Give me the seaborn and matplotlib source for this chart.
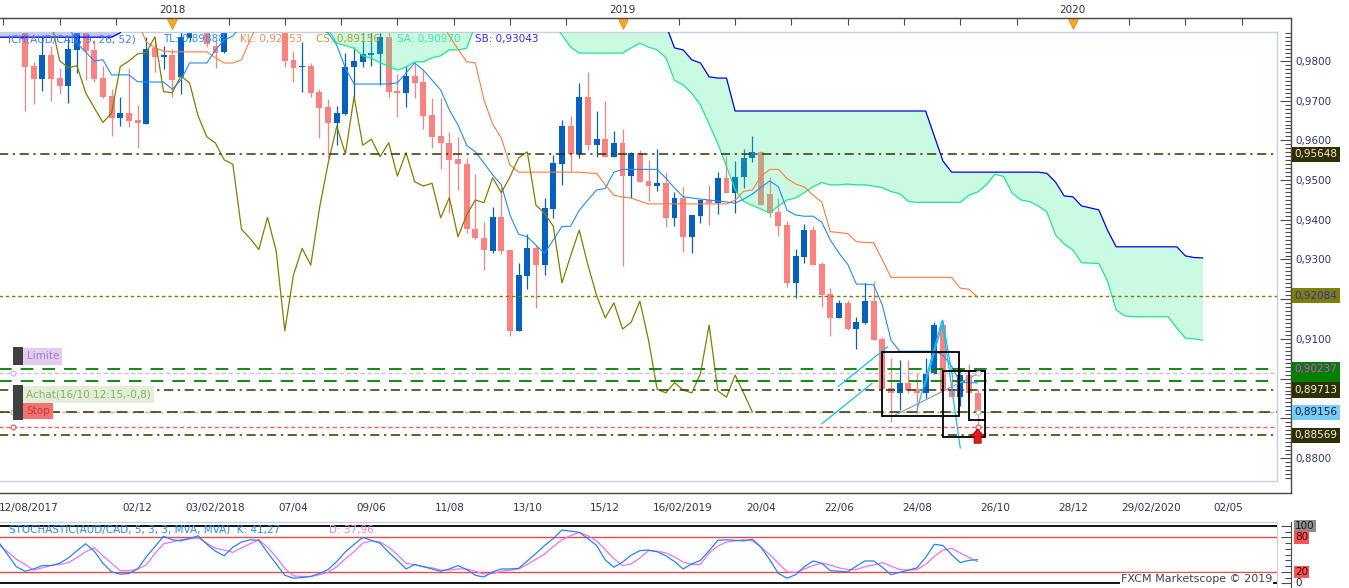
import numpy as np
import pandas as pd
import seaborn as sns
import matplotlib.pyplot as plt
import matplotlib.transforms as mtransforms
from matplotlib.patches import Rectangle
from matplotlib.ticker import FixedLocator, FuncFormatter

# AUD/CAD weekly candles, bar 0 = week of 02/09/2017, bar 110 = week of 12/10/2019
opens = [0.9903, 0.9787, 0.9755, 0.9815, 0.9756, 0.9737, 0.9828, 0.9883, 0.9828, 0.9757,
         0.9712, 0.9657, 0.9669, 0.9651, 0.9641, 0.9833, 0.9810, 0.9815, 0.9760, 0.9857,
         0.9900, 0.9920, 0.9838, 0.9823, 0.9890, 0.9935, 0.9910, 0.9950, 0.9920, 0.9945,
         0.9903, 0.9803, 0.9784, 0.9787, 0.9723, 0.9684, 0.9645, 0.9666, 0.9784, 0.9798,
         0.9815, 0.9818, 0.9861, 0.9724, 0.9720, 0.9762, 0.9748, 0.9664, 0.9611, 0.9593,
         0.9553, 0.9540, 0.9376, 0.9354, 0.9322, 0.9407, 0.9324, 0.9120, 0.9258, 0.9328,
         0.9286, 0.9427, 0.9540, 0.9636, 0.9566, 0.9710, 0.9588, 0.9603, 0.9559, 0.9594,
         0.9510, 0.9569, 0.9498, 0.9485, 0.9492, 0.9405, 0.9456, 0.9357, 0.9409, 0.9450,
         0.9443, 0.9506, 0.9468, 0.9507, 0.9555, 0.9571, 0.9465, 0.9419, 0.9387, 0.9241,
         0.9307, 0.9374, 0.9288, 0.9213, 0.9153, 0.9191, 0.9125, 0.9141, 0.9195, 0.9099,
         0.8977, 0.8964, 0.8988, 0.8973, 0.8964, 0.9011, 0.9135, 0.8971, 0.8953, 0.9009,
         0.8963]
highs = [0.9923, 0.9798, 0.9860, 0.9838, 0.9782, 0.9860, 0.9905, 0.9900, 0.9853, 0.9787,
         0.9729, 0.9710, 0.9783, 0.9689, 0.9860, 0.9853, 0.9838, 0.9830, 0.9880, 0.9915,
         0.9940, 0.9935, 0.9852, 0.9905, 0.9950, 0.9960, 0.9970, 0.9975, 0.9965, 0.9960,
         0.9920, 0.9825, 0.9849, 0.9796, 0.9729, 0.9704, 0.9687, 0.9820, 0.9836, 0.9880,
         0.9880, 0.9885, 0.9880, 0.9767, 0.9787, 0.9795, 0.9780, 0.9707, 0.9707, 0.9622,
         0.9608, 0.9556, 0.9515, 0.9395, 0.9433, 0.9483, 0.9324, 0.9291, 0.9364, 0.9336,
         0.9454, 0.9563, 0.9651, 0.9661, 0.9745, 0.9772, 0.9675, 0.9700, 0.9624, 0.9629,
         0.9571, 0.9576, 0.9551, 0.9578, 0.9521, 0.9469, 0.9483, 0.9412, 0.9451, 0.9488,
         0.9521, 0.9561, 0.9548, 0.9578, 0.9611, 0.9573, 0.9508, 0.9454, 0.9397, 0.9326,
         0.9389, 0.9384, 0.9294, 0.9227, 0.9198, 0.9198, 0.9154, 0.9240, 0.9246, 0.9105,
         0.9052, 0.9047, 0.9047, 0.9015, 0.9051, 0.9142, 0.9147, 0.9009, 0.9026, 0.9036,
         0.8975]
lows = [0.9675, 0.9692, 0.9724, 0.9699, 0.9717, 0.9695, 0.9771, 0.9752, 0.9747, 0.9707,
        0.9611, 0.9636, 0.9634, 0.9581, 0.9641, 0.9773, 0.9780, 0.9710, 0.9717, 0.9850,
        0.9885, 0.9835, 0.9783, 0.9820, 0.9880, 0.9890, 0.9895, 0.9900, 0.9895, 0.9885,
        0.9786, 0.9748, 0.9723, 0.9710, 0.9607, 0.9556, 0.9588, 0.9664, 0.9706, 0.9786,
        0.9787, 0.9740, 0.9710, 0.9660, 0.9684, 0.9706, 0.9629, 0.9581, 0.9527, 0.9418,
        0.9475, 0.9366, 0.9351, 0.9273, 0.9317, 0.9315, 0.9107, 0.9120, 0.9225, 0.9177,
        0.9261, 0.9405, 0.9488, 0.9523, 0.9556, 0.9576, 0.9559, 0.9559, 0.9557, 0.9283,
        0.9456, 0.9496, 0.9448, 0.9473, 0.9381, 0.9385, 0.9319, 0.9317, 0.9391, 0.9388,
        0.9414, 0.9467, 0.9416, 0.9479, 0.9546, 0.9437, 0.9408, 0.9359, 0.9231, 0.9204,
        0.9292, 0.9286, 0.9181, 0.9107, 0.9153, 0.9122, 0.9074, 0.9137, 0.9097, 0.8973,
        0.8891, 0.8921, 0.8964, 0.8910, 0.8950, 0.9011, 0.8969, 0.8953, 0.8930, 0.8960,
        0.8879]
closes = [0.9786, 0.9755, 0.9815, 0.9755, 0.9737, 0.9830, 0.9891, 0.9826, 0.9755, 0.9710,
          0.9657, 0.9669, 0.9650, 0.9644, 0.9830, 0.9810, 0.9815, 0.9752, 0.9861, 0.9900,
          0.9925, 0.9843, 0.9821, 0.9890, 0.9935, 0.9910, 0.9950, 0.9920, 0.9945, 0.9900,
          0.9801, 0.9783, 0.9788, 0.9720, 0.9682, 0.9645, 0.9669, 0.9786, 0.9800, 0.9818,
          0.9821, 0.9861, 0.9723, 0.9720, 0.9762, 0.9745, 0.9661, 0.9609, 0.9593, 0.9551,
          0.9540, 0.9376, 0.9353, 0.9325, 0.9406, 0.9322, 0.9120, 0.9261, 0.9328, 0.9286,
          0.9429, 0.9542, 0.9636, 0.9566, 0.9710, 0.9588, 0.9603, 0.9559, 0.9594, 0.9510,
          0.9569, 0.9496, 0.9485, 0.9492, 0.9405, 0.9456, 0.9357, 0.9412, 0.9450, 0.9443,
          0.9506, 0.9468, 0.9508, 0.9556, 0.9571, 0.9437, 0.9416, 0.9384, 0.9241, 0.9309,
          0.9374, 0.9286, 0.9210, 0.9153, 0.9191, 0.9125, 0.9142, 0.9195, 0.9097, 0.8973,
          0.8964, 0.8990, 0.8971, 0.8964, 0.9013, 0.9135, 0.8969, 0.8953, 0.9009, 0.8963,
          0.89156]

# Ichimoku (9, 26, 52)
tenkan = [0.9890, 0.9890, 0.9890, 0.9890, 0.9890, 0.9890, 0.9845, 0.9823, 0.9800, 0.9803,
          0.9765, 0.9765, 0.9765, 0.9748, 0.9747, 0.9747, 0.9747, 0.9729, 0.9752, 0.9795,
          0.9795, 0.9795, 0.9828, 0.9853, 0.9863, 0.9890, 0.9890, 0.9890, 0.9890, 0.9890,
          0.9890, 0.9890, 0.9885, 0.9885, 0.9880, 0.9871, 0.9840, 0.9782, 0.9742, 0.9742,
          0.9742, 0.9742, 0.9742, 0.9745, 0.9770, 0.9795, 0.9777, 0.9752, 0.9727, 0.9677,
          0.9639, 0.9588, 0.9571, 0.9543, 0.9513, 0.9488, 0.9412, 0.9364, 0.9357, 0.9336,
          0.9316, 0.9349, 0.9383, 0.9384, 0.9424, 0.9450, 0.9475, 0.9479, 0.9520, 0.9527,
          0.9527, 0.9527, 0.9527, 0.9527, 0.9505, 0.9480, 0.9458, 0.9455, 0.9452, 0.9450,
          0.9447, 0.9445, 0.9442, 0.9452, 0.9465, 0.9482, 0.9498, 0.9483, 0.9424, 0.9412,
          0.9409, 0.9409, 0.9394, 0.9349, 0.9316, 0.9288, 0.9238, 0.9238, 0.9236, 0.9185,
          0.9097, 0.9069, 0.9069, 0.9069, 0.9069, 0.9069, 0.9059, 0.9031, 0.8990, 0.8990,
          0.8989]
kijun = [0.9900, 0.9900, 0.9900, 0.9900, 0.9900, 0.9900, 0.9900, 0.9900, 0.9900, 0.9900,
         0.9900, 0.9900, 0.9900, 0.9900, 0.9848, 0.9833, 0.9825, 0.9823, 0.9823, 0.9823,
         0.9823, 0.9823, 0.9808, 0.9795, 0.9795, 0.9803, 0.9853, 0.9900, 0.9900, 0.9900,
         0.9900, 0.9900, 0.9900, 0.9900, 0.9900, 0.9900, 0.9900, 0.9900, 0.9900, 0.9900,
         0.9900, 0.9900, 0.9900, 0.9900, 0.9900, 0.9900, 0.9900, 0.9900, 0.9900, 0.9863,
         0.9830, 0.9798, 0.9795, 0.9702, 0.9641, 0.9606, 0.9538, 0.9520, 0.9520, 0.9520,
         0.9520, 0.9520, 0.9520, 0.9520, 0.9520, 0.9518, 0.9517, 0.9488, 0.9462, 0.9457,
         0.9455, 0.9447, 0.9440, 0.9440, 0.9440, 0.9440, 0.9440, 0.9440, 0.9440, 0.9440,
         0.9440, 0.9440, 0.9450, 0.9472, 0.9475, 0.9510, 0.9527, 0.9527, 0.9504, 0.9490,
         0.9483, 0.9462, 0.9445, 0.9370, 0.9368, 0.9365, 0.9345, 0.9343, 0.9342, 0.9299,
         0.9255, 0.9255, 0.9255, 0.9255, 0.9255, 0.9255, 0.9255, 0.9255, 0.9228, 0.9225,
         0.9205]
# senkou spans start 3 bars before bar 0 and run 26 bars past the last candle
# (values of 0.99 and above are off the top of the chart)
senkou_a = [0.9900] * 38 + [
    0.9880, 0.9845, 0.9839, 0.9832, 0.9813, 0.9807, 0.9796, 0.9786, 0.9777, 0.9785,
    0.9798, 0.9798, 0.9808, 0.9813, 0.9828, 0.9828, 0.9832, 0.9891] + [0.9900] * 9 + [
    0.9866, 0.9835, 0.9820, 0.9820, 0.9820, 0.9820, 0.9820, 0.9820, 0.9833, 0.9845,
    0.9835, 0.9828, 0.9808, 0.9751, 0.9740, 0.9718, 0.9689, 0.9641, 0.9592, 0.9535,
    0.9475, 0.9446, 0.9436, 0.9427, 0.9417, 0.9435, 0.9450, 0.9455, 0.9469, 0.9483,
    0.9494, 0.9488, 0.9488, 0.9490, 0.9488, 0.9488, 0.9485, 0.9481, 0.9471, 0.9466,
    0.9446, 0.9444, 0.9444, 0.9444, 0.9444, 0.9444, 0.9444, 0.9462, 0.9470, 0.9488,
    0.9515, 0.9509, 0.9467, 0.9450, 0.9446, 0.9435, 0.9420, 0.9362, 0.9339, 0.9324,
    0.9292, 0.9291, 0.9290, 0.9246, 0.9173, 0.9158, 0.9156, 0.9156, 0.9156, 0.9156,
    0.9156, 0.9127, 0.9102, 0.9100, 0.9097]
senkou_b = [0.9860] * 14 + [0.9871] + [0.9950] * 62 + [
    0.9891, 0.9833, 0.9828, 0.9803, 0.9795, 0.9760, 0.9757, 0.9757] + [0.9674] * 23 + [
    0.9611, 0.9548] + [0.9520] * 11 + [
    0.9517, 0.9495, 0.9460, 0.9458, 0.9435, 0.9430, 0.9425, 0.9374] + [0.9332] * 8 + [
    0.9309, 0.9305, 0.9304]

# stochastic (5, 3, 3), also from 3 bars before bar 0
stoch_k = [71, 50, 29,
           21, 25, 31, 31, 35, 44, 57, 69, 56, 35,
           20, 16, 17, 25, 46, 64, 82, 76, 74, 78,
           83, 68, 56, 48, 63, 72, 76, 75, 54, 34,
           14, 9, 10, 12, 17, 24, 38, 55, 68, 80,
           75, 70, 54, 40, 25, 33, 29, 25, 21, 25,
           31, 24, 14, 11, 20, 25, 25, 26, 39, 52,
           66, 78, 93, 91, 89, 78, 66, 41, 28, 37,
           49, 57, 58, 55, 48, 38, 25, 34, 40, 57,
           75, 76, 75, 74, 77, 63, 41, 17, 9, 15,
           29, 39, 35, 22, 21, 20, 30, 39, 39, 28,
           15, 19, 23, 27, 45, 68, 66, 50, 36, 40, 41.27]
stoch_d = [67, 55, 42,
           33, 23, 27, 31, 33, 36, 45, 55, 62, 48,
           35, 22, 22, 25, 32, 52, 69, 72, 76, 78,
           79, 70, 61, 58, 54, 62, 69, 76, 63, 46,
           26, 13, 12, 12, 15, 19, 29, 43, 55, 70,
           74, 72, 63, 50, 35, 32, 29, 27, 23, 23,
           25, 25, 21, 16, 17, 21, 23, 25, 33, 42,
           51, 64, 76, 83, 89, 83, 74, 59, 43, 31,
           34, 44, 57, 56, 53, 46, 37, 33, 33, 53,
           65, 72, 74, 76, 74, 63, 50, 35, 20, 19,
           25, 31, 35, 32, 27, 24, 24, 29, 32, 36,
           30, 24, 23, 24, 33, 47, 58, 61, 53, 45, 37.96]

# horizontal levels
level_dashdot = [0.95648, 0.89713, 0.88569]
level_dotted = 0.92084
level_green = [0.90237, 0.89930]
limit_level, entry_level, stop_level = 0.90131, 0.89156, 0.88773

# price boxes on the right axis (drawn in this order)
box_levels = [0.95648, 0.92084, 0.90237, 0.89713, 0.89156, 0.88569]
box_texts = ['0,95648', '0,92084', '0,90237', '0,89713', '0,89156', '0,88569']
box_faces = ['#2f2f00', '#808000', '#008000', '#2f2f00', '#78cdf5', '#2f2f00']
box_inks = ['#f4ecd0', '#2a2ad0', '#ff30ff', '#f4f4f4', '#1a1a40', '#f4f4f4']
hidden_box_level = 0.89930
# right-axis prices whose labels sit under the boxes
covered_ticks = [0.92, 0.90, 0.89]

# drawings (bar index, price)
trend_a = ([93.9, 99.6], [0.8980, 0.9080])
trend_b = ([92.0, 97.8], [0.8886, 0.8988])
zigzag_1 = ([103.0, 105.9, 108.0], [0.8921, 0.9147, 0.8825])
zigzag_2 = ([103.9, 106.0, 107.1], [0.8980, 0.9143, 0.9005])
grey_line = ([100.1, 110.1], [0.8904, 0.9013])
boxes = [(99.0, 107.9, 0.90678, 0.89058), (106.0, 110.85, 0.90199, 0.88537),
         (109.0, 110.85, 0.90199, 0.88957)]

date_ticks = [-3, 13, 22, 31, 40, 49, 58, 67, 76, 85, 94, 103, 112, 121, 130, 139]
date_labels = ['12/08/2017', '02/12', '03/02/2018', '07/04', '09/06', '11/08', '13/10', '15/12',
               '16/02/2019', '20/04', '22/06', '24/08', '26/10', '28/12', '29/02/2020', '02/05']
year_ticks = [17, 69, 121]
year_labels = ['2018', '2019', '2020']

assert len(opens) == len(highs) == len(lows) == len(closes) == len(tenkan) == len(kijun) == 111
assert len(senkou_a) == len(senkou_b) == 140
assert len(stoch_k) == len(stoch_d) == 114

# ---- layout (pixels of the 1349x588 picture) ----
W, H = 1349, 588
LEFT = -2.0
BAR0_PX, BAR_PX = 25.0, 8.66
P_REF, P_REF_PX, PX_PER_P = 0.98, 61.0, 3970.0

def k_at(px):
    return (px - BAR0_PX) / BAR_PX

def p_at(py):
    return P_REF + (P_REF_PX - py) / PX_PER_P

def st_at(py):
    return (583.3 - py) / 0.573

def rect(l, t, r, b):
    return [l / W, 1 - b / H, (r - l) / W, (b - t) / H]

def fx(px, right=1277):
    return (px - LEFT) / (right - LEFT)

def blend(a):
    return mtransforms.blended_transform_factory(a.transAxes, a.transData)

def price_label(v, _):
    if any(abs(v - c) < 1e-6 for c in covered_ticks):
        return ''
    return f'{v:.4f}'.replace('.', ',')

sns.set_style('white')
plt.rcParams['font.family'] = ['DejaVu Sans']
plt.rcParams['font.size'] = 7.5

BULL, BEAR = '#0560c0', '#fc8282'
FRAME = '#4a4a4a'
LIGHT = '#c6d0dc'

fig = plt.figure(figsize=(W / 100, H / 100), dpi=100)
axf = fig.add_axes(rect(LEFT, 18, 1291, 493))
ax = fig.add_axes(rect(LEFT, 32, 1277, 481))
axsf = fig.add_axes(rect(LEFT, 522.3, 1291, 588))
axs = fig.add_axes(rect(LEFT, 522.3, 1277, 588))

axf.set_xlim(k_at(LEFT), k_at(1291))
axf.set_ylim(p_at(493), p_at(18))
ax.set_xlim(k_at(LEFT), k_at(1277))
ax.set_ylim(p_at(481), p_at(32))
axs.set_xlim(k_at(LEFT), k_at(1277))
axs.set_ylim(st_at(588), st_at(522.3))
axsf.set_xlim(k_at(LEFT), k_at(1291))
axsf.set_ylim(st_at(588), st_at(522.3))

# ---- candles ----
df = pd.DataFrame({'open': opens, 'high': highs, 'low': lows, 'close': closes})
df['k'] = np.arange(len(df))
df['col'] = np.where(df['close'] >= df['open'], BULL, BEAR)
ax.vlines(df['k'], df['low'], df['high'], colors=df['col'], lw=0.9, zorder=2)
body = (df['close'] - df['open']).abs().clip(lower=0.0002)
ax.bar(df['k'], body, bottom=df[['open', 'close']].min(axis=1), width=0.68,
       color=df['col'], lw=0, zorder=2)

# ---- cloud ----
kc = np.arange(-3, -3 + len(senkou_a))
sa = np.array(senkou_a)
sb = np.array(senkou_b)
ax.fill_between(kc, sa, sb, where=sb >= sa, interpolate=True, color='#33ef93',
                alpha=0.25, lw=0, zorder=2.5)
ax.fill_between(kc, sa, sb, where=sa > sb, interpolate=True, color='#7575e6',
                alpha=0.4, lw=0, zorder=2.5)

kb = df['k'].to_numpy()
sns.lineplot(x=kc, y=sa, ax=ax, color='#1ee88a', lw=0.9, zorder=3, legend=False)
sns.lineplot(x=kc, y=sb, ax=ax, color='#0000e6', lw=0.9, zorder=3, legend=False)
sns.lineplot(x=kb, y=kijun, ax=ax, color='#ff7a3c', lw=0.8, zorder=3, legend=False)
sns.lineplot(x=kb, y=tenkan, ax=ax, color='#1e8cff', lw=0.8, zorder=3, legend=False)
# chikou span = closes plotted 26 bars back
sns.lineplot(x=kb[:len(closes) - 26], y=closes[26:], ax=ax, color='#808000', lw=0.9,
             zorder=3, legend=False)

# ---- horizontal levels ----
for lv in level_dashdot:
    ax.axhline(lv, color='#333300', lw=1.1, ls=(0, (6, 3, 1.5, 3)), zorder=3.5)
ax.axhline(level_dotted, color='#808000', lw=1.0, ls=(0, (2.5, 2)), zorder=3.5)
for lv in level_green:
    ax.axhline(lv, color='#008000', lw=1.3, ls=(0, (7, 5)), zorder=3.5)
ax.axhline(limit_level, color='#d8b4e8', lw=1.0, ls=(0, (3, 2)), zorder=3.5)
ax.axhline(entry_level, color='#a8c898', lw=1.0, ls=(0, (3, 2)), zorder=3.5)
ax.axhline(entry_level, color='#333300', lw=1.1, ls=(0, (7, 4)), zorder=3.5)
ax.axhline(stop_level, color='#f06060', lw=1.0, ls=(0, (3, 2)), zorder=3.5)

# ---- drawings ----
for xs, ys in (trend_a, trend_b, zigzag_1, zigzag_2):
    ax.plot(xs, ys, color='#10c0f0', lw=0.9, zorder=4)
ax.plot(*grey_line, color='#9898c0', lw=0.9, zorder=4)
for k0, k1, ptop, pbot in boxes:
    ax.add_patch(Rectangle((k0, pbot), k1 - k0, ptop - pbot, fill=False,
                           ec='black', lw=1.3, zorder=4))
ax.annotate('', xy=(kb[-1], stop_level - 0.0004), xytext=(kb[-1], stop_level - 0.0040),
            arrowprops=dict(arrowstyle='simple,head_length=0.45,head_width=0.8,tail_width=0.42',
                            mutation_scale=12, fc='#e41b1b', ec='#8a0000', lw=0.6,
                            shrinkA=0, shrinkB=0), zorder=6)
for lv, c in ((limit_level, '#d8b4e8'), (entry_level, '#a8c898'), (stop_level, '#f06060')):
    ax.plot([kb[-1]], [lv], 'o', ms=3.5, mfc='white', mec=c, mew=0.9, zorder=5)
    ax.plot([fx(13)], [lv], 'o', ms=3.5, mfc='white', mec=c, mew=0.9, zorder=5,
            transform=blend(ax), clip_on=False)

# ---- order labels on the left ----
tb = blend(ax)
ax.add_patch(Rectangle((fx(13), p_at(365)), fx(23) - fx(13), p_at(347) - p_at(365),
                       transform=tb, fc='#404040', ec='none', zorder=6))
ax.add_patch(Rectangle((fx(13), p_at(420)), fx(23) - fx(13), p_at(385) - p_at(420),
                       transform=tb, fc='#404040', ec='none', zorder=6))
order_labels = [('Limite', limit_level, 12.2, '#e2cdf2', '#a47cc8'),
                ('Achat(16/10 12:15,-0,8)', entry_level, 12.7, '#e2efd6', '#8fac73'),
                ('Stop', stop_level, 11.5, '#f27272', '#c43a3a')]
for txt, lv, off, fc, ink in order_labels:
    ax.annotate(txt, xy=(fx(26.5), lv), xycoords=tb, xytext=(0, off),
                textcoords='offset points', ha='left', va='center', color=ink,
                fontsize=7.5, zorder=7, annotation_clip=False,
                bbox=dict(boxstyle='square,pad=0.3', fc=fc, ec='none'))

# ---- ichimoku legend ----
ich_texts = ['ICH(AUD/CAD, 9, 26, 52)', 'TL: 0,89888', 'KL: 0,92053', 'CS: 0,89156',
             'SA: 0,90970', 'SB: 0,93043']
ich_px = [8, 163, 240, 316, 397, 475]
ich_colors = ['#3d7ef5', '#2b8cff', '#ff8a50', '#b8a020', '#40e89a', '#3a2af0']
for t, px, c in zip(ich_texts, ich_px, ich_colors):
    ax.text(fx(px), (481 - 39) / (481 - 32), t, transform=ax.transAxes, color=c,
            fontsize=7.5, ha='left', va='center', zorder=7)

# ---- main panel frames ----
ax.set_xticks([])
ax.set_yticks([])
ax.set_xlabel('')
ax.set_ylabel('')
ax.spines['left'].set_visible(False)
for s in ('top', 'right', 'bottom'):
    ax.spines[s].set_color(LIGHT)
    ax.spines[s].set_linewidth(1.0)

axf.patch.set_visible(False)
axf.spines['left'].set_visible(False)
for s in ('top', 'right', 'bottom'):
    axf.spines[s].set_color(FRAME)
    axf.spines[s].set_linewidth(1.0)
axf.yaxis.tick_right()
axf.yaxis.set_major_locator(FixedLocator(np.arange(0.88, 0.985, 0.01)))
axf.yaxis.set_minor_locator(FixedLocator(np.arange(0.875, 0.9875, 0.001)))
axf.yaxis.set_major_formatter(FuncFormatter(price_label))
axf.tick_params(axis='y', which='major', direction='in', length=8, width=0.8, color=FRAME,
                pad=3, labelsize=7.5, labelcolor='#34346e')
axf.tick_params(axis='y', which='minor', direction='in', length=4, width=0.8, color=FRAME)
axf.set_xticks(date_ticks, labels=date_labels)
axf.xaxis.set_minor_locator(FixedLocator(np.arange(-2.625, 146, 1.125)))
axf.tick_params(axis='x', which='major', direction='in', length=8, width=0.8, color=FRAME,
                pad=7, labelsize=7.5, labelcolor='#303058')
axf.tick_params(axis='x', which='minor', direction='in', length=4, width=0.8, color=FRAME)
axf.get_xticklabels()[0].set_ha('left')

top = axf.secondary_xaxis('top')
top.set_xticks(year_ticks, labels=year_labels)
top.xaxis.set_minor_locator(FixedLocator(np.arange(-2.5, 146, 6.5)))
top.tick_params(axis='x', which='both', direction='in', length=5, width=0.8, color=FRAME,
                pad=2.5, labelsize=7.5, labelcolor='#303050')
top.spines['top'].set_color(FRAME)
axf.plot(year_ticks, [1 - 5.5 / 475] * len(year_ticks), 'v', ms=7.5, color='#f5a623',
         mec='#e08a10', mew=0.5, transform=mtransforms.blended_transform_factory(
             axf.transData, axf.transAxes), clip_on=False, zorder=5)

# price box mostly hidden under its neighbours
axf.add_patch(Rectangle((fx(1292, 1291), hidden_box_level - 8.5 / PX_PER_P),
                        fx(1340, 1291) - fx(1292, 1291), 17 / PX_PER_P,
                        transform=blend(axf), fc='#008000', ec='none', clip_on=False,
                        zorder=4))
for lv, t, fc, ink in zip(box_levels, box_texts, box_faces, box_inks):
    axf.text(fx(1294.5, 1291), lv, t, transform=blend(axf), ha='left', va='center',
             color=ink, fontsize=7.5, clip_on=False, zorder=5,
             bbox=dict(boxstyle='square,pad=0.25', fc=fc, ec='none'))

# ---- stochastic panel ----
axs.axhline(100, color='black', lw=1.3, zorder=2)
axs.axhline(0, color='black', lw=1.3, zorder=2)
axs.axhline(80, color='#f04848', lw=1.0, zorder=2)
axs.axhline(20, color='#f04848', lw=1.0, zorder=2)
ks = np.arange(-3, -3 + len(stoch_k))
sns.lineplot(x=ks, y=stoch_d, ax=axs, color='#f070f0', lw=0.9, zorder=3, legend=False)
sns.lineplot(x=ks, y=stoch_k, ax=axs, color='#1e88f0', lw=0.9, zorder=3, legend=False)
axs.set_xticks([])
axs.set_yticks([])
axs.set_xlabel('')
axs.set_ylabel('')
for s in ('left', 'bottom'):
    axs.spines[s].set_visible(False)
for s in ('top', 'right'):
    axs.spines[s].set_color(LIGHT)
sy = (588 - 530) / (588 - 522.3)
axs.text(fx(9), sy, 'STOCHASTIC(AUD/CAD, 5, 3, 3, MVA, MVA)  K: 41,27', transform=axs.transAxes,
         color='#2a88f0', fontsize=7.5, ha='left', va='center', zorder=5)
axs.text(fx(329), sy, 'D: 37,96', transform=axs.transAxes, color='#f07cf0', fontsize=7.5,
         ha='left', va='center', zorder=5)
axs.text(fx(1121), (588 - 579) / (588 - 522.3), 'FXCM Marketscope \u00a9 2019',
         transform=axs.transAxes, color='#404060', fontsize=8, ha='left', va='center',
         zorder=5, bbox=dict(boxstyle='square,pad=0.1', fc='white', ec='none'))

axsf.patch.set_visible(False)
for s in ('left', 'top', 'bottom'):
    axsf.spines[s].set_visible(False)
axsf.spines['right'].set_color(FRAME)
axsf.yaxis.tick_right()
axsf.set_xticks([])
axsf.set_yticks([0, 20, 80, 100], labels=['', '', '', ''])
axsf.yaxis.set_minor_locator(FixedLocator(np.arange(0, 101, 10)))
axsf.tick_params(axis='y', which='major', direction='in', length=7, width=0.8, color=FRAME)
axsf.tick_params(axis='y', which='minor', direction='in', length=4, width=0.8, color=FRAME)
stoch_marks = [(100, '100', '#8c8c8c', '#1a1a1a'), (80, '80', '#f25656', '#4a0000'),
               (20, '20', '#f25656', '#4a0000'), (0, '0', None, '#202030')]
for v, t, fc, ink in stoch_marks:
    kw = dict(bbox=dict(boxstyle='square,pad=0.1', fc=fc, ec='none')) if fc else {}
    axsf.text(fx(1295, 1291), v, t, transform=blend(axsf), ha='left', va='center',
              color=ink, fontsize=7.5, clip_on=False, zorder=5, **kw)

fig.savefig('out.png', dpi=100, facecolor='white')
